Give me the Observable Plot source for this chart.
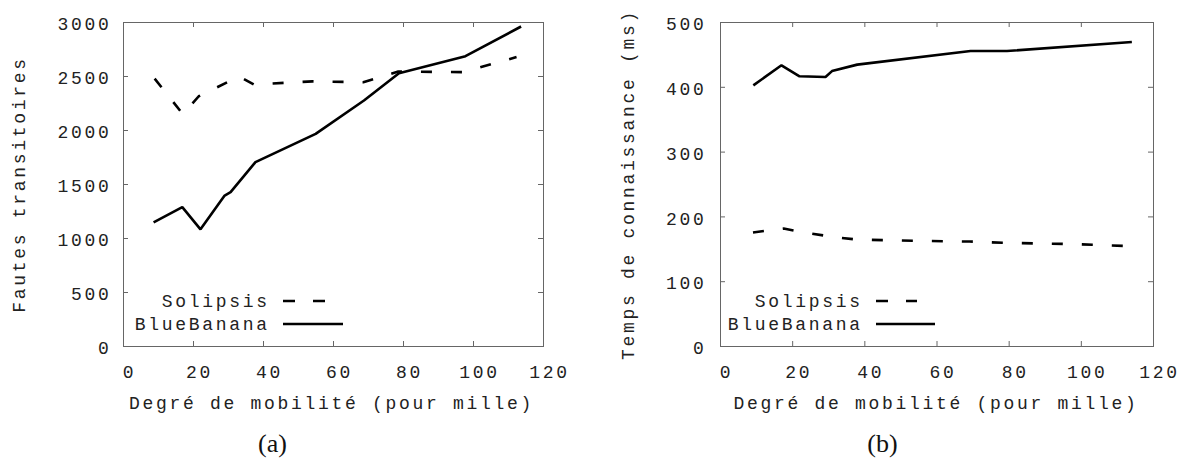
<!DOCTYPE html>
<html><head><meta charset="utf-8">
<script src="https://cdn.jsdelivr.net/npm/d3@7"></script>
<script src="https://cdn.jsdelivr.net/npm/@observablehq/plot@0.6"></script>
<style>
html,body{margin:0;padding:0;background:#fff;}
body{width:1181px;height:458px;overflow:hidden;position:relative;}
.chart{position:absolute;top:0;}
.cap{position:absolute;top:444px;font-family:"Liberation Serif",serif;font-size:26px;color:#111;transform:translate(-50%,-50%);line-height:1;}
.leg{position:absolute;left:0;top:0;overflow:visible;}
.leg text{font-family:"Liberation Mono",monospace;font-size:18px;letter-spacing:2.7px;fill:#222;}
</style></head><body>
<div id="a" class="chart" style="left:0px"></div>
<div id="b" class="chart" style="left:590px"></div>
<div class="cap" style="left:272.5px">(a)</div>
<div class="cap" style="left:882.5px">(b)</div>
<script>
// ---- data ----
const xTicks = [0, 20, 40, 60, 80, 100, 120];
const yTicksA = [0, 500, 1000, 1500, 2000, 2500, 3000];
const yTicksB = [0, 100, 200, 300, 400, 500];
const seriesNames = ["Solipsis", "BlueBanana"];
const xLabel = "Degré de mobilité (pour mille)";
const yLabelA = "Fautes transitoires";
const yLabelB = "Temps de connaissance (ms)";

const solipsisAX = [8.9, 17, 21.5, 33, 37.2, 54, 68.5, 78.5, 97, 112.3];
const solipsisAY = [2480, 2150, 2317, 2500, 2426, 2455, 2447, 2546, 2540, 2680];
const blueBananaAX = [8.6, 16.8, 22, 28.9, 30.6, 37.7, 54.9, 68.7, 78.7, 97.7, 113.6];
const blueBananaAY = [1150, 1290, 1085, 1398, 1429, 1707, 1969, 2278, 2531, 2688, 2963];

const solipsisBX = [9, 17.5, 22, 29, 31, 38, 55, 69, 79, 98, 113];
const solipsisBY = [176, 182, 177, 171, 169, 165, 163, 162, 160, 158, 155];
const blueBananaBX = [9.1, 16.9, 21.9, 29.1, 30.9, 37.9, 69.3, 79.4, 114];
const blueBananaBY = [403, 434, 417, 416, 425, 435, 456, 456, 470];

const zip = (xs, ys) => xs.map((x, i) => ({x, y: ys[i]}));

function chart({width, marginLeft, marginRight, yDomain, yTicks, yLabel, yLabelDx, yTickPad, xLabelDx, sol, blue}) {
  const height = 420, marginTop = 22, marginBottom = 74;
  const pw = width - marginLeft - marginRight;
  const ph = height - marginTop - marginBottom;
  const grey = "#666";
  return Plot.plot({
    width, height, marginLeft, marginRight, marginTop, marginBottom,
    style: {fontFamily: "'Liberation Mono', monospace", fontSize: "18px", letterSpacing: "2.7px", color: "#222", background: "white", overflow: "visible"},
    x: {domain: [0, 120]},
    y: {domain: yDomain},
    marks: [
      Plot.frame({stroke: grey, strokeWidth: 1}),
      Plot.tickX(xTicks, {x: d => d, stroke: grey, insetTop: ph - 5}),
      Plot.tickX(xTicks, {x: d => d, stroke: grey, insetBottom: ph - 5}),
      Plot.tickY(yTicks, {y: d => d, stroke: grey, insetRight: pw - 5}),
      Plot.tickY(yTicks, {y: d => d, stroke: grey, insetLeft: pw - 5}),
      Plot.axisX({ticks: xTicks, tickSize: 0, tickPadding: 19, dx: 6, label: null, tickFormat: d => String(d)}),
      Plot.axisY({ticks: yTicks, tickSize: 0, tickPadding: yTickPad, dy: 2, label: null, tickFormat: d => String(d)}),
      Plot.text([xLabel], {text: d => d, frameAnchor: "bottom", lineAnchor: "middle", textAnchor: "middle", dy: 57, dx: xLabelDx, fontSize: 18}),
      Plot.text([yLabel], {text: d => d, frameAnchor: "left", lineAnchor: "middle", textAnchor: "middle", rotate: -90, dx: yLabelDx, fontSize: 18}),
      Plot.line(sol, {x: "x", y: "y", stroke: "black", strokeWidth: 2.6, strokeDasharray: "11,19", strokeLinecap: "butt", strokeLinejoin: "miter"}),
      Plot.line(blue, {x: "x", y: "y", stroke: "black", strokeWidth: 2.6, strokeLinecap: "butt", strokeLinejoin: "miter"})
    ]
  });
}

const plotA = chart({width: 590, marginLeft: 123, marginRight: 47, yDomain: [0, 3000], yTicks: yTicksA, yLabel: yLabelA, yLabelDx: -104, yTickPad: 12, xLabelDx: -2,
  sol: zip(solipsisAX, solipsisAY), blue: zip(blueBananaAX, blueBananaAY)});
const plotB = chart({width: 591, marginLeft: 130, marginRight: 28, yDomain: [0, 500], yTicks: yTicksB, yLabel: yLabelB, yLabelDx: -92, yTickPad: 14, xLabelDx: -1,
  sol: zip(solipsisBX, solipsisBY), blue: zip(blueBananaBX, blueBananaBY)});
document.getElementById("a").append(plotA);
document.getElementById("b").append(plotB);

// ---- legends (inside the frames) ----
function legend(container, textEnd, lineStart, dashEnd, solidEnd) {
  const ns = "http://www.w3.org/2000/svg";
  const svg = document.createElementNS(ns, "svg");
  svg.setAttribute("class", "leg");
  svg.setAttribute("width", 590); svg.setAttribute("height", 420);
  const rows = [{name: seriesNames[0], y: 302, dash: "12,18", end: dashEnd},
                {name: seriesNames[1], y: 325, dash: null, end: solidEnd}];
  for (const r of rows) {
    const t = document.createElementNS(ns, "text");
    t.setAttribute("x", textEnd + 2.7); t.setAttribute("y", r.y);
    t.setAttribute("text-anchor", "end"); t.setAttribute("dominant-baseline", "central");
    t.textContent = r.name; svg.append(t);
    const l = document.createElementNS(ns, "line");
    l.setAttribute("x1", lineStart); l.setAttribute("x2", r.end);
    l.setAttribute("y1", r.y - 1); l.setAttribute("y2", r.y - 1);
    l.setAttribute("stroke", "black"); l.setAttribute("stroke-width", 2.6);
    if (r.dash) l.setAttribute("stroke-dasharray", r.dash);
    svg.append(l);
  }
  container.append(svg);
}
legend(document.getElementById("a"), 267, 283, 325, 343);
legend(document.getElementById("b"), 270, 286, 327, 345);
</script>
</body></html>
